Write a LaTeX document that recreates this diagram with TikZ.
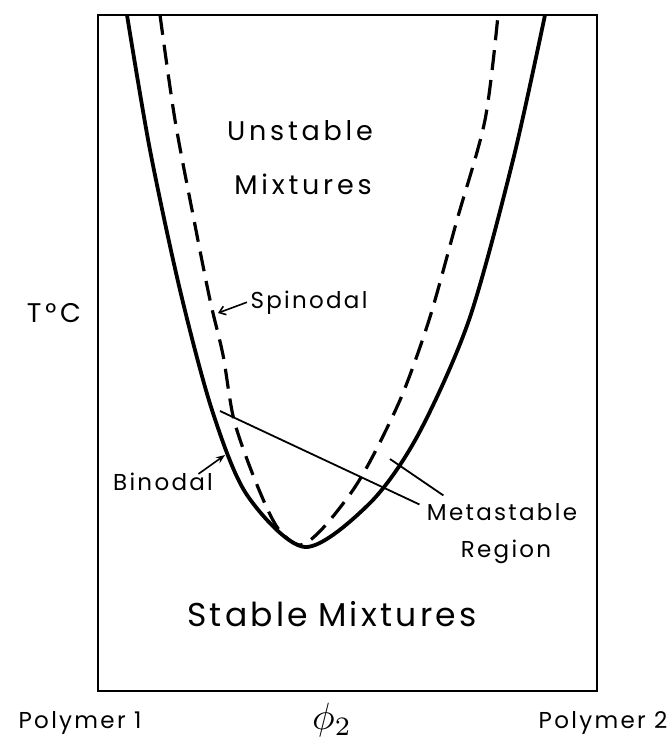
\documentclass[tikz,border=0pt]{standalone}
\usepackage{fontspec}
\setmainfont{Poppins}
\usetikzlibrary{arrows.meta}

\tikzset{
  binodale/.style={line width=3.8pt, line join=round},
  spinodale/.style={line width=3.2pt, dash pattern=on 20pt off 10pt},
  trait/.style={line width=1.8pt},
  fleche/.style={line width=1.6pt, -{Straight Barb[length=6pt,width=9pt]}},
  flechepleine/.style={line width=1.6pt, -{Stealth[length=9pt,width=7pt]}},
  grand/.style={anchor=base, font=\fontsize{33}{38}\selectfont\addfontfeature{LetterSpace=10}},
  moyen/.style={anchor=base, font=\fontsize{27}{32}\selectfont\addfontfeature{LetterSpace=14}},
  petit/.style={anchor=base, font=\fontsize{23}{28}\selectfont\addfontfeature{LetterSpace=10}},
}

\begin{document}
\begin{tikzpicture}[x=1pt, y=-1pt]
  \useasboundingbox (0,0) rectangle (669,745);

  % Cadre
  \draw[line width=2pt] (98,15) rectangle (597,691);

  % Courbe binodale
  \draw[binodale] plot[smooth] coordinates {(127,15) (150,150) (180,290) (212,410)
    (247,495) (305,547) (370,503) (418,435) (469,320) (513,160) (545,15)};

  % Courbe spinodale
  \draw[spinodale] plot[smooth] coordinates {(160,15) (175,120) (194,220) (210,300)
    (223,355) (234,420) (255,480) (277,527) (300,545) (323,528) (353,490) (375,452)
    (403,393) (430,317) (457,220) (485,120) (498,15)};

  % Textes
  \node[moyen] (instable) at (300,140) {Unstable};
  \node[moyen] (melinst) at (303,194) {Mixtures};
  \node[petit] (spin) at (309,308) {Spinodal};
  \node[moyen] (temp) at (54,322) {T°C};
  \node[petit] (bin) at (163,490) {Binodal};
  \node[petit] (meta) at (502,520) {Metastable};
  \node[petit] (region) at (506,557) {Region};
  \node[grand] (stable) at (332,626) {Stable\hspace{0.3em}Mixtures};
  \node[petit] (poly1) at (80,728) {Polymer 1};
  \node (phi) at (332,720) {\scalebox{3.8}{$\phi_2$}};
  \node[petit] (poly2) at (603,728) {Polymer 2};

  % Points sur les courbes
  \coordinate (pS) at (218,313);
  \coordinate (pB) at (225,455);
  \coordinate (t1) at (220,411);
  \coordinate (t2) at (390,459);

  % Fleches
  \draw[fleche] (spin.west) -- (pS);
  \draw[flechepleine] ([xshift=-18pt,yshift=-5pt]bin.north east) -- (pB);

  % Region metastable
  \draw[trait] (t1) -- ([xshift=-4pt,yshift=-5pt]meta.north west);
  \draw[trait] (t2) -- ([xshift=20pt,yshift=4pt]meta.north west);
\end{tikzpicture}
\end{document}
